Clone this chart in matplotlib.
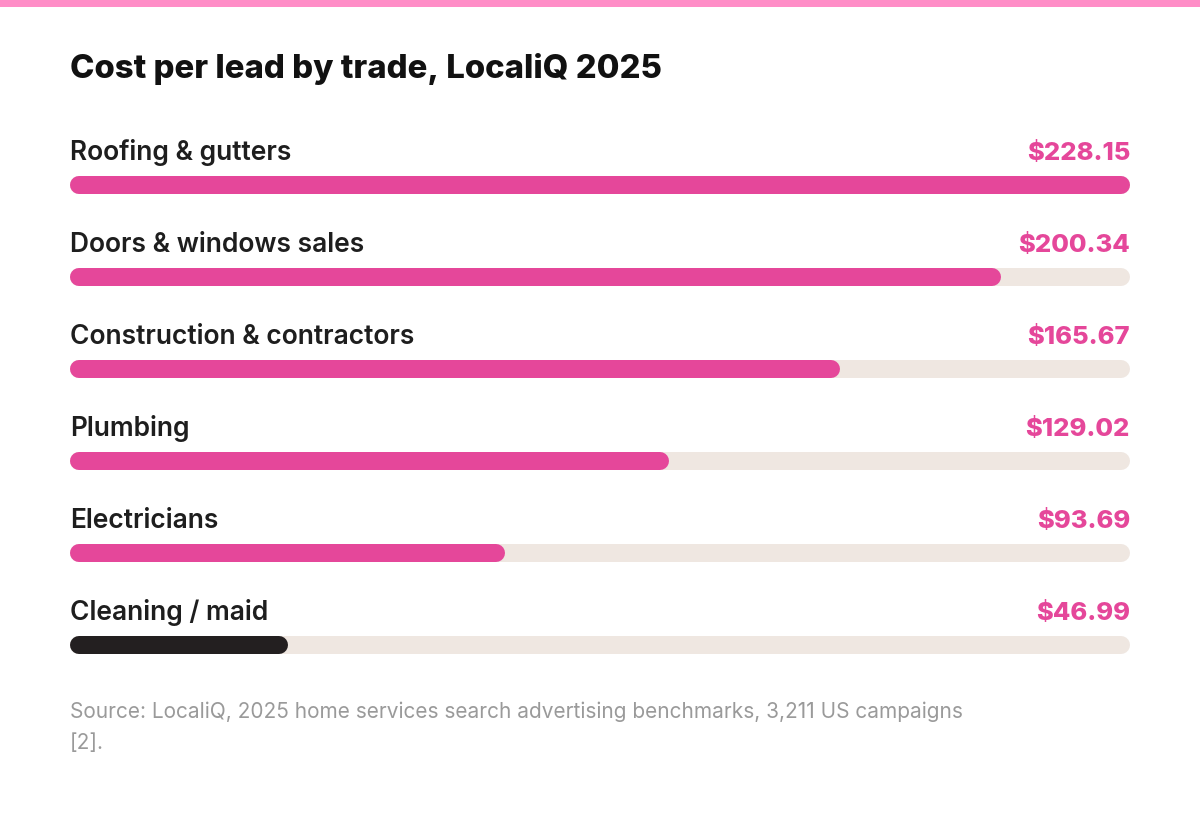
import matplotlib
matplotlib.use('Agg')
import matplotlib.pyplot as plt
from matplotlib.patches import Rectangle

# data
trades = ['Roofing & gutters', 'Doors & windows sales', 'Construction & contractors',
          'Plumbing', 'Electricians', 'Cleaning / maid']
cost_per_lead = [228.15, 200.34, 165.67, 129.02, 93.69, 46.99]
bar_colors = ['#E5479A', '#E5479A', '#E5479A', '#E5479A', '#E5479A', '#231F20']

title = 'Cost per lead by trade, LocaliQ 2025'
source = ('Source: LocaliQ, 2025 home services search advertising benchmarks, 3,211 US campaigns\n'
          '[2].')

PINK = '#E5479A'
TRACK = '#EFE7E1'
FONT = 'Inter'

W, H = 1200, 823
fig = plt.figure(figsize=(W / 100, H / 100), dpi=100)
fig.patch.set_facecolor('white')

# pink stripe at the very top
fig.patches.append(Rectangle((0, 1 - 7 / H), 1, 7 / H, transform=fig.transFigure,
                             facecolor='#FF8DC7', edgecolor='none'))

fig.text(70 / W, 1 - 69 / H, title, fontsize=23.7, fontweight='heavy', family=FONT,
         color='#111111', va='center', ha='left')

# bars axes: x 70..1130 px, six rows of 92 px centred on 185..645 px
row = 92
top_px = 185 - row / 2
bot_px = 645 + row / 2
ax = fig.add_axes([70 / W, 1 - bot_px / H, 1060 / W, (bot_px - top_px) / H])
xmax = max(cost_per_lead)
ax.set_xlim(0, xmax)
ax.set_ylim(len(trades) - 0.5, -0.5)
ax.axis('off')

bar_px = 18
lw_pt = bar_px * 0.72
cap = (bar_px / 2) * xmax / 1060  # round cap length in data units

for i, (name, v, c) in enumerate(zip(trades, cost_per_lead, bar_colors)):
    ax.plot([cap, xmax - cap], [i, i], color=TRACK, lw=lw_pt, solid_capstyle='round', zorder=1)
    ax.plot([cap, v - cap], [i, i], color=c, lw=lw_pt, solid_capstyle='round', zorder=2)
    ty = i - 32 / row
    ax.text(0, ty, name, fontsize=19, fontweight='semibold', family=FONT,
            color='#1E1E1E', ha='left', va='center')
    ax.text(xmax, ty, f'${v:.2f}', fontsize=18.4, fontweight='heavy', family=FONT,
            color=PINK, ha='right', va='center')

fig.text(70 / W, 1 - 701 / H, source, fontsize=15, family=FONT, color='#9A9A9A',
         ha='left', va='top', linespacing=1.75)

fig.savefig('out.png', dpi=100, facecolor='white')
